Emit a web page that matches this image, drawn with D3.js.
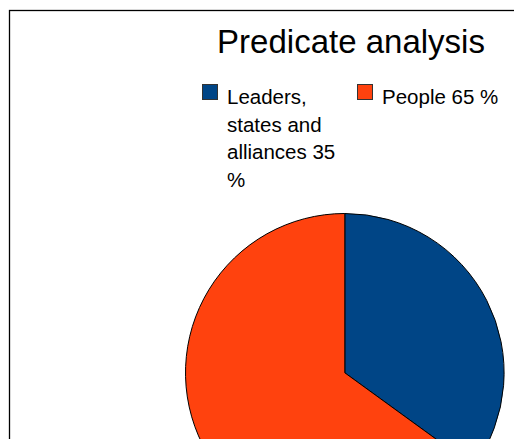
<!DOCTYPE html>
<html>
<head>
<meta charset="utf-8">
<script src="https://cdn.jsdelivr.net/npm/d3@7"></script>
<style>
  body { margin: 0; background: #fff; }
  svg { display: block; font-family: "Liberation Sans", Arial, sans-serif; }
</style>
</head>
<body>
<div class="chart"></div>
<script>
// data
const categories = ["Leaders, states and alliances 35 %", "People 65 %"]
const values = [35, 65]
const colors = ["#004586", "#ff420e"]
const title = "Predicate analysis"

const width = 514, height = 439

const svg = d3.select(".chart")
  .append("svg")
    .attr("width", width)
    .attr("height", height)

// frame of the chart area (runs off the page on right and bottom)
svg.append("rect")
  .attr("x", 9.5)
  .attr("y", 10.5)
  .attr("width", 600)
  .attr("height", 600)
  .attr("fill", "none")
  .attr("stroke", "#000")
  .attr("stroke-width", 1.3)

svg.append("text")
  .attr("x", 351)
  .attr("y", 53)
  .attr("text-anchor", "middle")
  .style("font-size", "33px")
  .attr("fill", "#000")
  .text(title)

// legend
const legendX = [202, 357]
const legend = svg.selectAll(".legend")
  .data(categories)
  .join("g")
    .attr("class", "legend")
    .attr("transform", (d, i) => `translate(${legendX[i]},84)`)

legend.append("rect")
  .attr("x", 0.5)
  .attr("y", 0.5)
  .attr("width", 15)
  .attr("height", 15)
  .attr("fill", (d, i) => colors[i])
  .attr("stroke", "#333")
  .attr("stroke-width", 1)

legend.append("text")
  .attr("x", 25)
  .attr("y", 20)
  .style("font-size", "20.5px")
  .attr("fill", "#000")
  .each(function(d) { wrap(d3.select(this), d, 120, 27.5) })

function wrap(text, str, maxW, lineH) {
  const words = str.split(" ")
  let line = []
  let tspan = text.append("tspan").attr("x", 25).attr("dy", 0)
  words.forEach(w => {
    line.push(w)
    tspan.text(line.join(" "))
    if (tspan.node().getComputedTextLength() > maxW && line.length > 1) {
      line.pop()
      tspan.text(line.join(" "))
      line = [w]
      tspan = text.append("tspan").attr("x", 25).attr("dy", lineH).text(w)
    }
  })
}

// pie
const radius = 159.3
const pie = d3.pie().sort(null)
const arc = d3.arc().innerRadius(0).outerRadius(radius)

svg.append("g")
    .attr("transform", "translate(344.8,372.8)")
  .selectAll("path")
  .data(pie(values))
  .join("path")
    .attr("d", arc)
    .attr("fill", (d, i) => colors[i])
    .attr("stroke", "#000")
    .attr("stroke-width", 1)
</script>
</body>
</html>
